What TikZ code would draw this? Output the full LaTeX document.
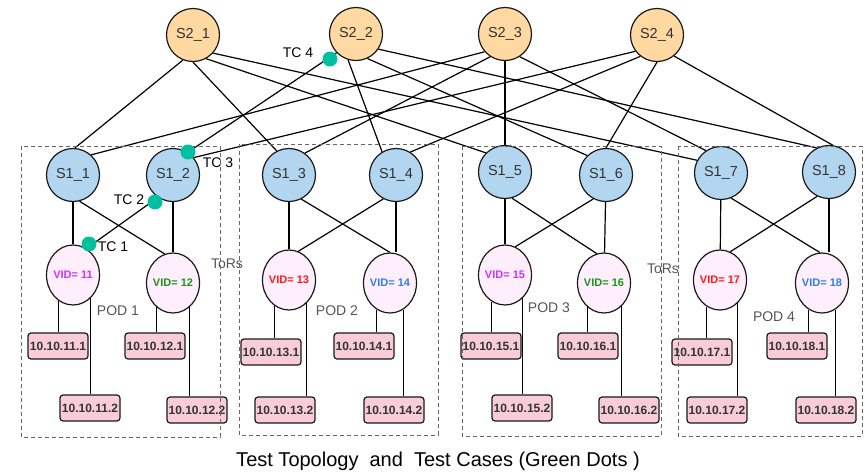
\documentclass[tikz,border=0pt]{standalone}
\usepackage{fontspec}
\setmainfont{Liberation Sans}
\usetikzlibrary{shapes.geometric,calc}
\definecolor{spinefill}{HTML}{FFD9A1}
\definecolor{leaffill}{HTML}{B3D6F0}
\definecolor{torfill}{HTML}{FFEEFB}
\definecolor{hostfill}{HTML}{F8CCD8}
\definecolor{tcgreen}{HTML}{00C0A0}
\definecolor{vidpurple}{HTML}{CC33FF}
\definecolor{vidgreen}{HTML}{1A961A}
\definecolor{vidred}{HTML}{FF1A1A}
\definecolor{vidblue}{HTML}{2E7DF0}
\definecolor{txtgray}{HTML}{333333}
\definecolor{labgray}{HTML}{555555}
\begin{document}
\begin{tikzpicture}[x=1pt,y=-1pt,
 spine/.style={circle, draw=black!90, line width=1.2pt, fill=spinefill, minimum size=53pt, inner sep=0pt, font=\fontsize{14.5}{16}\selectfont, text=txtgray},
 leaf/.style={spine, fill=leaffill},
 tor/.style={ellipse, draw=black!90, line width=1.2pt, fill=torfill, minimum width=53pt, minimum height=60pt, inner sep=0pt, font=\bfseries\fontsize{11}{13}\selectfont},
 host/.style={rectangle, rounded corners=3pt, draw=black!90, line width=1.2pt, fill=hostfill, minimum width=60pt, minimum height=26pt, inner sep=0pt, font=\bfseries\fontsize{12}{14}\selectfont, text=txtgray},
 link/.style={line width=1.2pt, black},
 tc/.style={circle, fill=tcgreen, minimum size=15pt, inner sep=0pt},
 tclabel/.style={font=\fontsize{14}{16}\selectfont, inner sep=0pt},
 podlabel/.style={font=\fontsize{14}{16}\selectfont, text=labgray, inner sep=0pt},
 podbox/.style={draw=black!60, dash pattern=on 4pt off 3pt, line width=1pt}
]
\useasboundingbox (0,0) rectangle (865,472);

% spine (S2) switches
\node[spine] (s21) at (193,35) {S2\_1};
\node[spine] (s22) at (356,34) {S2\_2};
\node[spine] (s23) at (505,34) {S2\_3};
\node[spine] (s24) at (657,35) {S2\_4};

% leaf (S1) switches
\node[leaf] (s11) at (73,175) {S1\_1};
\node[leaf] (s12) at (173,175) {S1\_2};
\node[leaf] (s13) at (289,175) {S1\_3};
\node[leaf] (s14) at (396,175) {S1\_4};
\node[leaf] (s15) at (505,172) {S1\_5};
\node[leaf] (s16) at (606,175) {S1\_6};
\node[leaf] (s17) at (721,173) {S1\_7};
\node[leaf] (s18) at (829,172) {S1\_8};

% ToRs
\node[tor, text=vidpurple] (t11) at (73,275) {\makebox[0pt]{VID= 11}};
\node[tor, text=vidgreen]  (t12) at (173,283) {\makebox[0pt]{VID= 12}};
\node[tor, text=vidred]    (t13) at (289,280) {\makebox[0pt]{VID= 13}};
\node[tor, text=vidblue]   (t14) at (390,283) {\makebox[0pt]{VID= 14}};
\node[tor, text=vidpurple] (t15) at (505,275) {\makebox[0pt]{VID= 15}};
\node[tor, text=vidgreen]  (t16) at (604,283) {\makebox[0pt]{VID= 16}};
\node[tor, text=vidred]    (t17) at (720,280) {\makebox[0pt]{VID= 17}};
\node[tor, text=vidblue]   (t18) at (822,283) {\makebox[0pt]{VID= 18}};

% hosts
\node[host] (h111) at (58,346) {10.10.11.1};
\node[host] (h112) at (90,408) {10.10.11.2};
\node[host] (h121) at (155,346) {10.10.12.1};
\node[host] (h122) at (197,410) {10.10.12.2};
\node[host] (h131) at (271,352) {10.10.13.1};
\node[host] (h132) at (285,410) {10.10.13.2};
\node[host] (h141) at (364,346) {10.10.14.1};
\node[host] (h142) at (394,410) {10.10.14.2};
\node[host] (h151) at (491,346) {10.10.15.1};
\node[host] (h152) at (522,408) {10.10.15.2};
\node[host] (h161) at (588,346) {10.10.16.1};
\node[host] (h162) at (629,410) {10.10.16.2};
\node[host] (h171) at (702,352) {10.10.17.1};
\node[host] (h172) at (717,410) {10.10.17.2};
\node[host] (h181) at (797,346) {10.10.18.1};
\node[host] (h182) at (826,410) {10.10.18.2};

% spine -- leaf links
\draw[link] (s21.248) -- (s11.86);
\draw[link] (s21.270) -- (s13.117);
\draw[link] (s21.299) -- (s15.135);
\draw[link] (s21.318) -- (s17.152);
\draw[link] (s22.224) -- (s12.57);
\draw[link] (s22.253) -- (s14.121);
\draw[link] (s22.295) -- (s16.134);
\draw[link] (s22.326) -- (s18.117);
\draw[link] (s23.221) -- (s11.48);
\draw[link] (s23.237) -- (s13.54);
\draw[link] (s23.270) -- (s15.90);
\draw[link] (s23.303) -- (s17.124);
\draw[link] (s24.217) -- (s12.40);
\draw[link] (s24.232) -- (s14.58);
\draw[link] (s24.270) -- (s16.90);
\draw[link] (s24.309) -- (s18.82);

% leaf -- ToR links
\draw[link] (s11) -- (t11);
\draw[link] (s11.284) -- (t12.106);
\draw[link] (s12.236) -- (t11.63);
\draw[link] (s12) -- (t12);
\draw[link] (s13) -- (t13);
\draw[link] (s13.297) -- (t14.90);
\draw[link] (s14.242) -- (t13.72);
\draw[link] (s14) -- (s14 |- t14.north);
\draw[link] (s15) -- (t15);
\draw[link] (s15.285) -- (t16.104);
\draw[link] (s16.242) -- (t15.70);
\draw[link] (s16) -- (t16);
\draw[link] (s17) -- (t17);
\draw[link] (s17.292) -- (t18.94);
\draw[link] (s18.244) -- (t17.70);
\draw[link] (s18) -- (s18 |- t18.north);

% ToR -- host links
\draw[link] (t11.241) -- (t11.241 |- h111.north);
\draw[link] (t11.307) -- (t11.307 |- h112.north);
\draw[link] (t12.236) -- (t12.236 |- h121.north);
\draw[link] (t12.304) -- (t12.304 |- h122.north);
\draw[link] (t13.241) -- (t13.241 |- h131.north);
\draw[link] (t13.307) -- (t13.307 |- h132.north);
\draw[link] (t14.243) -- (t14.243 |- h141.north);
\draw[link] (t14.297) -- (t14.297 |- h142.north);
\draw[link] (t15.243) -- (t15.243 |- h151.north);
\draw[link] (t15.307) -- (t15.307 |- h152.north);
\draw[link] (t16.236) -- (t16.236 |- h161.north);
\draw[link] (t16.307) -- (t16.307 |- h162.north);
\draw[link] (t17.243) -- (t17.243 |- h171.north);
\draw[link] (t17.307) -- (t17.307 |- h172.north);
\draw[link] (t18.243) -- (t18.243 |- h181.north);
\draw[link] (t18.297) -- (t18.297 |- h182.north);

% labels
\node[podlabel] (pod1) at (118,311) {POD 1};
\node[podlabel] (pod2) at (337,311) {POD 2};
\node[podlabel] (pod3) at (549,308) {POD 3};
\node[podlabel] (pod4) at (774,317) {POD 4};
\node[podlabel] (tors1) at (227,264) {ToRs};
\node[podlabel] (tors2) at (663,269) {ToRs};

% pod boxes
\draw[podbox] (21,146) rectangle (220,437);
\draw[podbox] (239,144) rectangle (438,435);
\draw[podbox] (462,146) rectangle (661,436);
\draw[podbox] (678,146) rectangle (862,436);

% test case dots
\node[tc] (tc4) at (330,59) {};
\node[tc] (tc3) at (188,152) {};
\node[tc] (tc2) at (155,202) {};
\node[tc] (tc1) at (89,244) {};
\node[tclabel] (tcl4) at (298,53) {TC 4};
\node[tclabel] (tcl3) at (218,163) {TC 3};
\node[tclabel] (tcl2) at (129,200) {TC 2};
\node[tclabel] (tcl1) at (113,247) {TC 1};

% caption
\node[font=\fontsize{20}{24}\selectfont, inner sep=0pt] (cap) at (438,461) {Test Topology\ \ and\ \ Test Cases (Green Dots )};
\end{tikzpicture}
\end{document}
